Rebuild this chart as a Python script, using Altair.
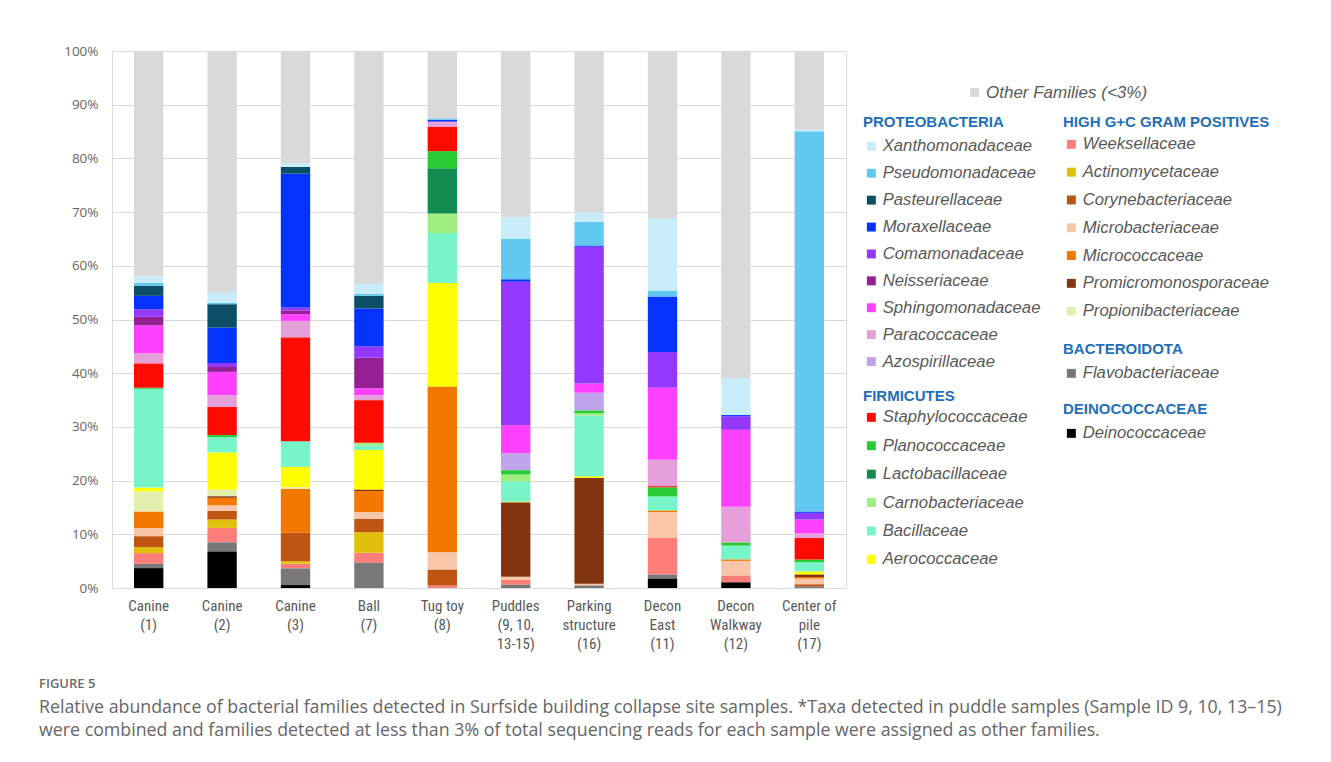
import altair as alt
import pandas as pd

samples = ["Canine|(1)", "Canine|(2)", "Canine|(3)", "Ball|(7)", "Tug toy|(8)",
           "Puddles|(9, 10,|13-15)", "Parking|structure|(16)", "Decon|East|(11)",
           "Decon|Walkway|(12)", "Center of|pile|(17)"]

# families from bottom of stack to top
families = ["Deinococcaceae", "Flavobacteriaceae", "Weeksellaceae", "Actinomycetaceae",
            "Corynebacteriaceae", "Microbacteriaceae", "Micrococcaceae", "Promicromonosporaceae",
            "Propionibacteriaceae", "Aerococcaceae", "Bacillaceae", "Carnobacteriaceae",
            "Lactobacillaceae", "Planococcaceae", "Staphylococcaceae", "Azospirillaceae",
            "Paracoccaceae", "Sphingomonadaceae", "Neisseriaceae", "Comamonadaceae",
            "Moraxellaceae", "Pasteurellaceae", "Pseudomonadaceae", "Xanthomonadaceae"]
colors = ["#000000", "#787878", "#ff7e79", "#e0c00a",
          "#bf5413", "#f8c6a9", "#f37800", "#84340f",
          "#e4eeae", "#ffff00", "#77f4c8", "#9fee80",
          "#138c52", "#28cb33", "#fe0a00", "#bfa3ec",
          "#e6a0d9", "#ff40ff", "#942093", "#9437ff",
          "#0433ff", "#0c4f66", "#61c9f0", "#c9ecfb"]
other_name = "Other Families (<3%)"
other_color = "#d9d9d9"

canine1 = [3.7, 0.8, 2.0, 1.1, 2.05, 1.5, 3.1, 0, 3.7, 0.75, 18.4, 0, 0, 0.2, 4.5, 0, 1.9, 5.2, 1.6, 1.4, 2.5, 1.9, 0.5, 1.2]
canine2 = [6.8, 1.7, 2.7, 1.55, 1.6, 1.05, 1.4, 0.3, 1.2, 6.95, 2.85, 0, 0, 0.4, 5.2, 0, 2.2, 4.35, 0.9, 0.75, 6.6, 4.35, 0.25, 1.9]
canine3 = [0.55, 3.1, 0.9, 0.45, 5.3, 0, 8.2, 0, 0.25, 3.8, 4.8, 0, 0, 0, 19.3, 0, 3.1, 1.25, 0.7, 0.55, 24.9, 1.25, 0, 0.6]
ball = [0, 4.7, 1.85, 3.85, 2.5, 1.25, 3.9, 0.25, 0, 7.4, 0.85, 0.5, 0, 0, 7.9, 0, 0.95, 1.3, 5.7, 2.05, 7.1, 2.35, 0.4, 1.8]
tug_toy = [0, 0, 0.45, 0, 3.0, 3.2, 30.85, 0, 0, 19.3, 9.3, 3.65, 8.4, 3.2, 4.5, 0, 1.0, 0, 0, 0, 0.35, 0, 0.2, 0]
puddles = [0, 0.6, 0.9, 0, 0, 0.6, 0, 13.8, 0, 0.2, 3.8, 1.25, 0, 0.8, 0, 3.15, 0, 5.2, 0, 26.75, 0.45, 0, 7.5, 4.0]
parking = [0, 0.45, 0, 0, 0, 0.35, 0, 19.7, 0, 0.3, 11.3, 0.45, 0, 0.5, 0, 3.3, 0, 1.75, 0, 25.45, 0.25, 0, 4.35, 1.75]
decon_east = [1.75, 0.75, 6.8, 0, 0, 4.85, 0.25, 0, 0, 0, 2.65, 0, 0, 1.7, 0.2, 0, 4.95, 13.4, 0, 6.65, 10.35, 0, 1.1, 13.35]
decon_walkway = [1.05, 0, 1.3, 0, 0, 2.7, 0.25, 0, 0, 0, 2.6, 0, 0, 0.55, 0, 0, 6.7, 14.3, 0, 2.5, 0.25, 0, 0, 6.9]
center_pile = [0, 0.25, 0, 0, 0.45, 1.05, 0.3, 0.45, 0, 0.6, 1.7, 0, 0, 0.5, 4.0, 0, 0.85, 2.6, 0, 1.25, 0.25, 0, 70.8, 0.3]

sample_values = [canine1, canine2, canine3, ball, tug_toy, puddles, parking,
                 decon_east, decon_walkway, center_pile]

# legend groups (top-to-bottom order within each legend)
groups = {
    "PROTEOBACTERIA": ["Xanthomonadaceae", "Pseudomonadaceae", "Pasteurellaceae", "Moraxellaceae",
                       "Comamonadaceae", "Neisseriaceae", "Sphingomonadaceae", "Paracoccaceae",
                       "Azospirillaceae"],
    "FIRMICUTES": ["Staphylococcaceae", "Planococcaceae", "Lactobacillaceae", "Carnobacteriaceae",
                   "Bacillaceae", "Aerococcaceae"],
    "HIGH G+C GRAM POSITIVES": ["Weeksellaceae", "Actinomycetaceae", "Corynebacteriaceae",
                                "Microbacteriaceae", "Micrococcaceae", "Promicromonosporaceae",
                                "Propionibacteriaceae"],
    "BACTEROIDOTA": ["Flavobacteriaceae"],
    "DEINOCOCCACEAE": ["Deinococcaceae"],
}
# legend placement: x, y, row padding, title padding
legend_pos = {
    "OTHER": (851, 33, 11, 8),
    "PROTEOBACTERIA": (751, 64, 8.9, 8),
    "FIRMICUTES": (751, 338, 10.4, 5),
    "HIGH G+C GRAM POSITIVES": (951, 64, 9.8, 6),
    "BACTEROIDOTA": (951, 291, 9, 8),
    "DEINOCOCCACEAE": (951, 351, 9, 8),
}

color_of = dict(zip(families, colors))
group_of = {f: g for g, fs in groups.items() for f in fs}

rows = []
for s, vals in zip(samples, sample_values):
    for i, (f, v) in enumerate(zip(families, vals)):
        if v > 0:
            rows.append({"sample": s, "family": f, "value": v, "order": i, "group": group_of[f]})
    rows.append({"sample": s, "family": other_name, "value": round(100 - sum(vals), 2),
                 "order": len(families), "group": "OTHER"})
df = pd.DataFrame(rows)

x_enc = alt.X("sample:N", sort=samples,
              scale=alt.Scale(paddingInner=0.6, paddingOuter=0.3),
              axis=alt.Axis(title=None, labelAngle=0, labelExpr="split(datum.label, '|')",
                            domain=False, ticks=False, labelFontSize=15, labelPadding=10,
                            labelLineHeight=19, labelColor="#595959",
                            labelFont="Liberation Sans Narrow, Roboto Condensed, Liberation Sans",
                            labelBaseline="top"))
y_enc = alt.Y("y0:Q", scale=alt.Scale(domain=[0, 100], nice=False),
              axis=alt.Axis(title=None, values=list(range(0, 101, 10)),
                            labelExpr="datum.value + '%'", domain=False, ticks=False,
                            grid=True, gridColor="#d9d9d9", gridWidth=1.2, labelPadding=14,
                            labelFontSize=13.5, labelColor="#666666", labelFont="Open Sans"))

legend_common = dict(orient="none", symbolType="square", symbolSize=80, symbolStrokeWidth=0,
                     labelFont="Liberation Sans", labelFontStyle="italic", labelFontSize=16.7,
                     labelColor="#595959", titleFont="Liberation Sans", titleFontWeight="bold",
                     titleFontSize=15, titleColor="#1f6fb8",
                     symbolOffset=0, labelOffset=3, padding=0, labelLimit=400, titleLimit=400)

layers = []
ox, oy, orp, otp = legend_pos["OTHER"]
other_layer = alt.Chart().transform_filter(alt.datum.group == "OTHER").mark_bar().encode(
    x=x_enc, y=y_enc, y2="y1:Q",
    color=alt.Color("family:N", scale=alt.Scale(domain=[other_name], range=[other_color]),
                    legend=alt.Legend(title=None, legendX=ox, legendY=oy, rowPadding=orp,
                                      titlePadding=otp,
                                      **{**legend_common, "labelFontSize": 17,
                                         "symbolOffset": 3})))
layers.append(other_layer)
for g, fams in groups.items():
    lx, ly, rp, tp = legend_pos[g]
    lay = alt.Chart().transform_filter(alt.datum.group == g).mark_bar().encode(
        x=x_enc, y=y_enc, y2="y1:Q",
        color=alt.Color("family:N",
                        scale=alt.Scale(domain=fams, range=[color_of[f] for f in fams]),
                        legend=alt.Legend(title=g, legendX=lx, legendY=ly, rowPadding=rp,
                                          titlePadding=tp, **legend_common)))
    layers.append(lay)

chart = alt.layer(*layers, data=df).transform_stack(
    stack="value", as_=["y0", "y1"], groupby=["sample"],
    sort=[alt.SortField("order", "ascending")]
).resolve_scale(color="independent").resolve_legend(color="independent").properties(
    width=734, height=537,
    padding={"left": 31, "top": 36, "right": 10, "bottom": 10},
    title=alt.TitleParams(
        text="FIGURE 5",
        subtitle=["Relative abundance of bacterial families detected in Surfside building collapse site samples. *Taxa detected in puddle samples (Sample ID 9, 10, 13\u201315)",
                  "were combined and families detected at less than 3% of total sequencing reads for each sample were assigned as other families."],
        orient="bottom", anchor="start", frame="group", dx=-73, offset=27,
        font="Open Sans", fontSize=13, fontWeight=600, color="#6a6a6a",
        subtitleFont="Open Sans", subtitleFontSize=17.8, subtitleColor="#666666",
        subtitleFontWeight="normal", subtitlePadding=8, subtitleLineHeight=23),
).configure_view(stroke=None).configure(background="white")

chart.save("out.html", embed_options={"renderer": "svg", "actions": False})
